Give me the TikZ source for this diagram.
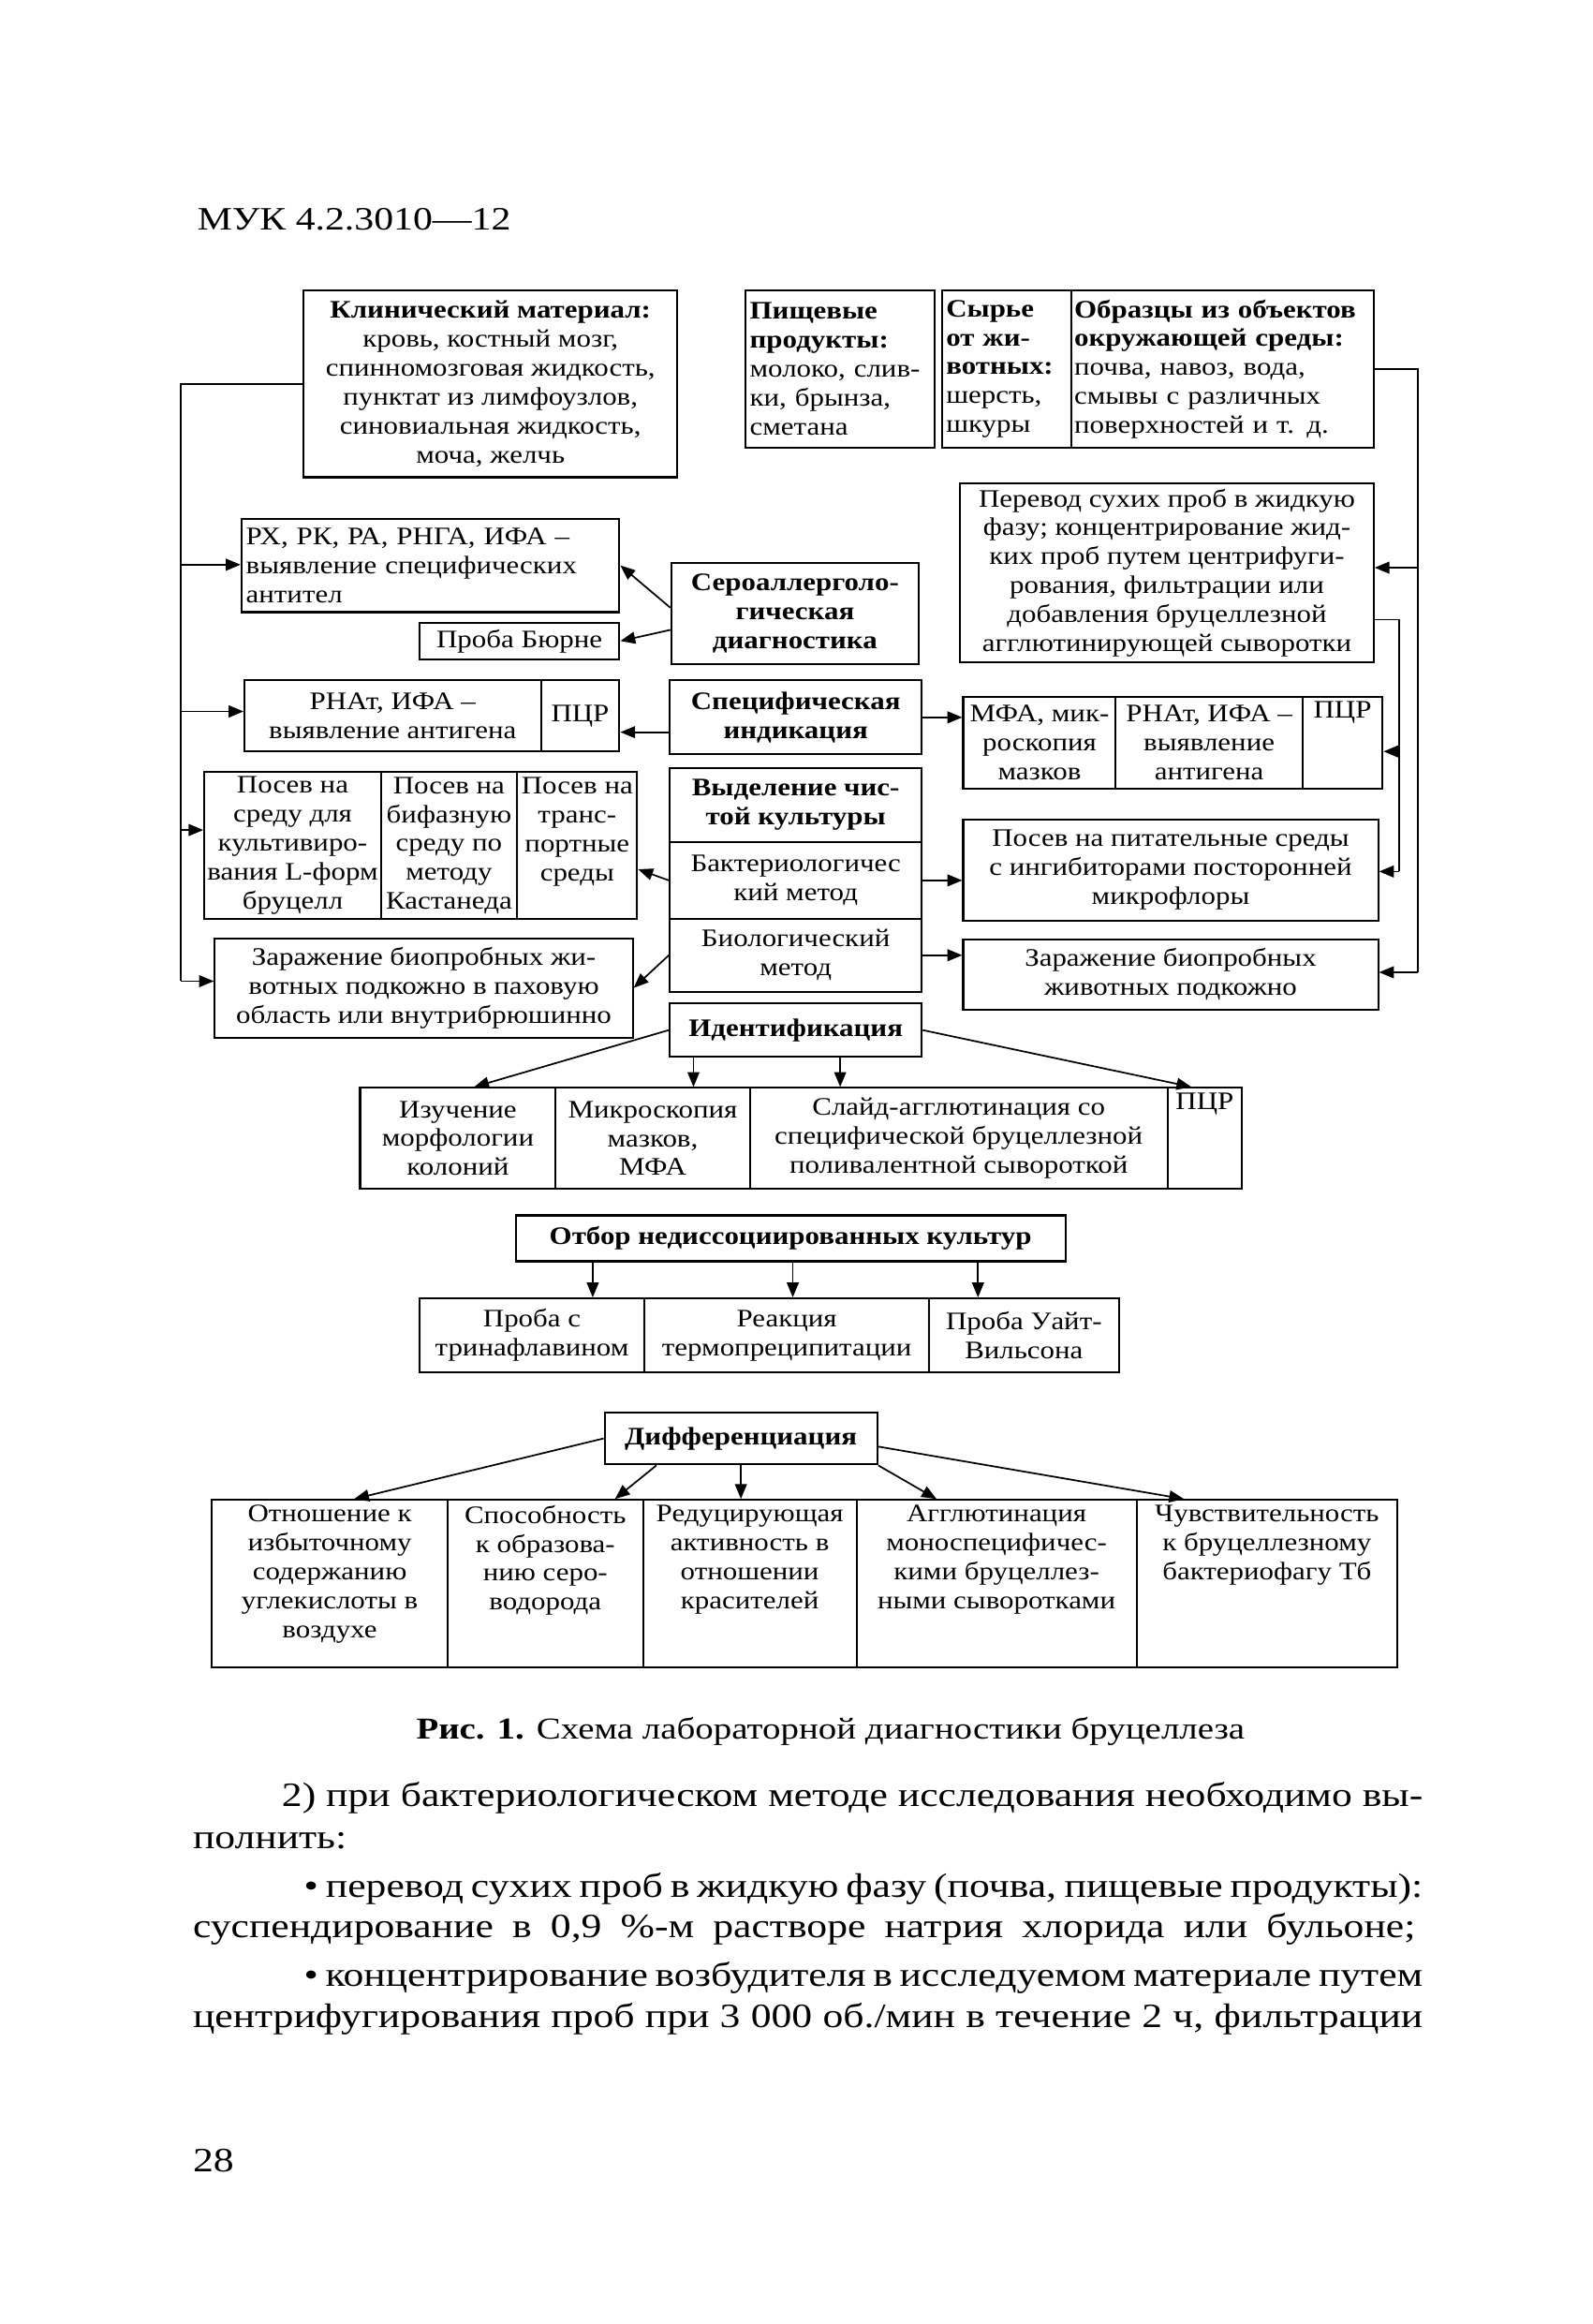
\documentclass[tikz,border=0pt]{standalone}
\usepackage{fontspec}
\setmainfont{Liberation Serif}[FakeStretch=1.2]
\newfontfamily\boxfam{Liberation Serif}[FakeStretch=1.15]
\usetikzlibrary{arrows.meta,calc}
\newcommand\bxfont{\boxfam\fontsize{17}{19.5}\selectfont}
\newcommand\bodyfont{\fontsize{23}{28}\selectfont}
\newcommand\Bx[7][]{\node[bx,minimum width={#5-#3},minimum height={#6-#4},#1] (#2) at ({(#3+#5)/2},{(#4+#6)/2}) {#7};}
\tikzset{
  bx/.style={draw,line width=1.3pt,inner sep=2pt,align=center,font=\bxfont},
  arr/.style={line width=1.1pt,-{Triangle[length=10pt,width=8pt]}},
  ln/.style={line width=1.1pt},
  lt/.style={align=left,text width=#1},
  tt/.style={anchor=north,inner sep=0pt,align=center,font=\bxfont}
}
\begin{document}
\begin{tikzpicture}[x=1pt,y=-1pt]
\fill[white] (0,0) rectangle (1075,1568);
\useasboundingbox (0,0) rectangle (1075,1568);
% header
\node[anchor=base west,inner sep=0pt,font=\fontsize{22}{26}\selectfont] (hdr) at (133,155) {МУК 4.2.3010—12};
% top row
\Bx{clin}{205}{196}{457}{322}{\textbf{Клинический материал:}\\кровь, костный мозг,\\спинномозговая жидкость,\\пунктат из лимфоузлов,\\синовиальная жидкость,\\моча, желчь}
\Bx[lt=122pt]{food}{503}{196}{631}{302}{\textbf{Пищевые}\\\textbf{продукты:}\\молоко, слив-\\ки, брынза,\\сметана}
\Bx[lt=82pt]{raw}{636}{196}{723}{302}{\textbf{Сырье}\\\textbf{от жи-}\\\textbf{вотных:}\\шерсть,\\шкуры}
\Bx[lt=200pt,inner sep=1.5pt]{env}{723}{196}{927}{302}{\textbf{Образцы из объектов}\\\textbf{окружающей среды:}\\почва, навоз, вода,\\смывы с различных\\поверхностей и т. д.}
\Bx{perevod}{648}{326}{927}{447}{Перевод сухих проб в жидкую\\фазу; концентрирование жид-\\ких проб путем центрифуги-\\рования, фильтрации или\\добавления бруцеллезной\\агглютинирующей сыворотки}
% left column
\Bx[lt=249pt]{rx}{163}{350}{418}{413}{РХ, РК, РА, РНГА, ИФА –\\выявление специфических\\антител}
\Bx{burne}{283}{420}{418}{445}{Проба Бюрне}
\Bx{rnat}{165}{459}{365}{507}{РНАт, ИФА –\\выявление антигена}
\Bx{pcra}{365}{459}{418}{507}{ПЦР}
\Bx{posa}{138}{521}{257}{620}{Посев на\\среду для\\культивиро-\\вания L-форм\\бруцелл}
\Bx{posb}{257}{521}{349}{620}{Посев на\\бифазную\\среду по\\методу\\Кастанеда}
\Bx{posc}{349}{521}{430}{620}{}
\node[tt] (posct) at ([yshift=-4pt]posc.north) {Посев на\\транс-\\портные\\среды};
\Bx{zarl}{145}{633}{427}{700}{Заражение биопробных жи-\\вотных подкожно в паховую\\область или внутрибрюшинно}
% middle column
\Bx[font=\bxfont\bfseries]{sero}{453}{380}{620}{448}{Сероаллерголо-\\гическая\\диагностика}
\Bx[font=\bxfont\bfseries]{spec}{452}{459}{622}{509}{Специфическая\\индикация}
\Bx[font=\bxfont\bfseries]{vydel}{452}{518}{622}{568}{Выделение чис-\\той культуры}
\Bx{bakt}{452}{568}{622}{620}{Бактериологичес\\кий метод}
\Bx{biol}{452}{620}{622}{669}{Биологический\\метод}
\Bx[font=\bxfont\bfseries]{ident}{452}{677}{622}{713}{Идентификация}
% right column
\Bx{mfa}{650}{470}{753}{532}{МФА, мик-\\роскопия\\мазков}
\Bx{rnatb}{753}{470}{879}{532}{РНАт, ИФА –\\выявление\\антигена}
\Bx{pcrb}{879}{470}{933}{532}{}
\node[tt] (pcrbt) at ([yshift=-4pt]pcrb.north) {ПЦР};
\Bx{pospit}{650}{553}{930}{621}{Посев на питательные среды\\с ингибиторами посторонней\\микрофлоры}
\Bx{zarr}{650}{634}{930}{681}{Заражение биопробных\\животных подкожно}
% identification row
\Bx{ida}{243}{734}{375}{802}{Изучение\\морфологии\\колоний}
\Bx{idb}{375}{734}{506}{802}{Микроскопия\\мазков,\\МФА}
\Bx{idc}{506}{734}{788}{802}{Слайд-агглютинация со\\специфической бруцеллезной\\поливалентной сывороткой}
\Bx{idd}{788}{734}{838}{802}{}
\node[tt] (iddt) at ([yshift=-4pt]idd.north) {ПЦР};
% selection
\Bx[font=\bxfont\bfseries]{otbor}{348}{820}{719}{851}{Отбор недиссоциированных культур}
\Bx{ota}{283}{876}{435}{926}{Проба с\\тринафлавином}
\Bx{otb}{435}{876}{627}{926}{Реакция\\термопреципитации}
\Bx{otc}{627}{876}{755}{926}{Проба Уайт-\\Вильсона}
% differentiation
\Bx[font=\bxfont\bfseries]{diff}{408}{953}{592}{988}{Дифференциация}
\Bx{da}{143}{1012}{302}{1125}{}
\Bx{db}{302}{1012}{434}{1125}{}
\Bx{dc}{434}{1012}{578}{1125}{}
\Bx{dd}{578}{1012}{767}{1125}{}
\Bx{de}{767}{1012}{943}{1125}{}
\node[tt] (dat) at ([yshift=-4pt]da.north) {Отношение к\\избыточному\\содержанию\\углекислоты в\\воздухе};
\node[tt] (dbt) at ([yshift=-4pt]db.north) {Способность\\к образова-\\нию серо-\\водорода};
\node[tt] (dct) at ([yshift=-4pt]dc.north) {Редуцирующая\\активность в\\отношении\\красителей};
\node[tt] (ddt) at ([yshift=-4pt]dd.north) {Агглютинация\\моноспецифичес-\\кими бруцеллез-\\ными сыворотками};
\node[tt] (det) at ([yshift=-4pt]de.north) {Чувствительность\\к бруцеллезному\\бактериофагу Тб};
% left bus
\coordinate (L0) at (122,259);
\coordinate (L1) at (122,381);
\coordinate (L2) at (122,480);
\coordinate (L3) at (122,560);
\coordinate (L4) at (122,662);
\draw[ln] (clin.west) -- (L0) -- (L4);
\draw[arr] (L1) -- (L1 -| rx.west);
\draw[arr] (L2) -- (L2 -| rnat.west);
\draw[arr] (L3) -- (L3 -| posa.west);
\draw[arr] (L4) -- (L4 -| zarl.west);
% right outer bus
\coordinate (R0) at (957,249);
\coordinate (R1) at (957,383);
\coordinate (R2) at (957,656);
\draw[ln] (env.east) -- (R0) -- (R2);
\draw[arr] (R1) -- (R1 -| perevod.east);
\draw[arr] (R2) -- (R2 -| zarr.east);
% right inner bus
\coordinate (Q1) at (944,418);
\coordinate (Q2) at (944,507);
\coordinate (Q3) at (944,588);
\draw[ln] (Q1 -| perevod.east) -- (Q1) -- (Q3);
\draw[arr] (Q2) -- (Q2 -| pcrb.east);
\draw[arr] (Q3) -- (Q3 -| pospit.east);
% middle arrows
\draw[arr] ([yshift=4pt]sero.west) -- (rx.east);
\draw[arr] ([yshift=-11pt]sero.west) -- (burne.east);
\draw[arr] ([yshift=-10pt]spec.west) -- ([yshift=-10pt]spec.west -| pcra.east);
\draw[arr] (spec.east) -- (spec.east -| mfa.west);
\draw[arr] (bakt.west) -- ([yshift=-16pt]posc.east);
\draw[arr] (bakt.east) -- (bakt.east -| pospit.west);
\draw[arr] (biol.west) -- (zarl.east);
\draw[arr] (biol.east) -- (biol.east -| zarr.west);
% identification arrows
\draw[arr] (ident.west) -- ([xshift=11pt]ida.north);
\draw[arr] ([xshift=-69pt]ident.south) -- ([xshift=-69pt]ident.south |- idb.north);
\draw[arr] ([xshift=30pt]ident.south) -- ([xshift=30pt]ident.south |- idc.north);
\draw[arr] (ident.east) -- ([xshift=-9pt]idd.north);
% selection arrows
\draw[arr] ([xshift=-133.5pt]otbor.south) -- ([xshift=-133.5pt]otbor.south |- ota.north);
\draw[arr] ([xshift=1.5pt]otbor.south) -- ([xshift=1.5pt]otbor.south |- otb.north);
\draw[arr] ([xshift=126.5pt]otbor.south) -- ([xshift=126.5pt]otbor.south |- otc.north);
% differentiation arrows
\draw[arr] (diff.west) -- ([xshift=16.5pt]da.north);
\draw[arr] ([xshift=-57pt]diff.south) -- ([xshift=47pt]db.north);
\draw[arr] (diff.south) -- (diff.south |- dc.north);
\draw[arr] (diff.south east) -- ([xshift=-40.5pt]dd.north);
\draw[arr] ([yshift=-5.5pt]diff.east) -- ([xshift=-56pt]de.north);
% caption and body
\node[anchor=base,inner sep=0pt,font=\fontsize{20.5}{24}\selectfont] (cap) at (560.5,1173) {\textbf{Рис. 1.} Схема лабораторной диагностики бруцеллеза};
\node[anchor=base west,inner sep=0pt,font=\bodyfont] (pa) at (190,1219) {\makebox[770pt][s]{2) при бактериологическом методе исследования необходимо вы-}};
\node[anchor=base west,inner sep=0pt,font=\bodyfont] (pb) at (130,1247) {полнить:};
\node[anchor=base west,inner sep=0pt,font=\bodyfont] (pc) at (205,1280) {\makebox[755pt][s]{• перевод сухих проб в жидкую фазу (почва, пищевые продукты):}};
\node[anchor=base west,inner sep=0pt,font=\bodyfont] (pd) at (130,1307) {\makebox[825pt][s]{суспендирование в 0,9 \%-м растворе натрия хлорида или бульоне;}};
\node[anchor=base west,inner sep=0pt,font=\bodyfont] (pe) at (205,1340) {\makebox[755pt][s]{• концентрирование возбудителя в исследуемом материале путем}};
\node[anchor=base west,inner sep=0pt,font=\bodyfont] (pf) at (130,1368) {\makebox[830pt][s]{центрифугирования проб при 3 000 об./мин в течение 2 ч, фильтрации}};
\node[anchor=base west,inner sep=0pt,font=\bodyfont] (pg) at (130,1465) {28};
\end{tikzpicture}
\end{document}
